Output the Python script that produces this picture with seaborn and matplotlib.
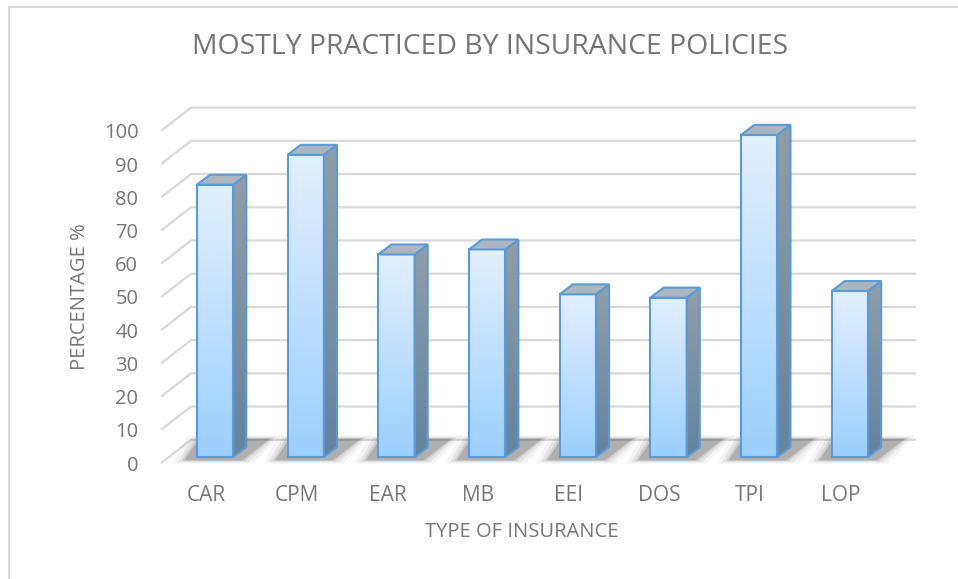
import numpy as np
import pandas as pd
import matplotlib.pyplot as plt
from matplotlib.colors import LinearSegmentedColormap
from matplotlib.patches import Polygon, Rectangle
import seaborn as sns

categories = ["CAR", "CPM", "EAR", "MB", "EEI", "DOS", "TPI", "LOP"]
percentages = [82, 91, 61, 62.5, 49, 48, 97, 50]
y_ticks = list(range(0, 101, 10))

title = "MOSTLY PRACTICED BY INSURANCE POLICIES"
x_title = "TYPE OF INSURANCE"
y_title = "PERCENTAGE %"

sns.set_theme(style="white")
plt.rcParams["font.family"] = ["Open Sans", "DejaVu Sans"]

text_gray = "#767676"
grid_gray = "#d9d9d9"
edge_blue = "#5b9bd5"

# fake 3d: depth offsets in data units
bar_dx, bar_dy = 0.145, 3.0
wall_dx, front_dy, back_dy = 0.33, -1.8, 5.2
x_front, x_back_right = -0.595, 7.73

df = pd.DataFrame({"type": categories, "pct": percentages})

fig = plt.figure(figsize=(9.58, 5.79), dpi=100)
ax = fig.add_axes([155 / 958, 109 / 579, 765 / 958, 370 / 579])

# back wall gridlines with the little diagonal from the front plane
for v in y_ticks:
    ax.plot([x_front, x_front + wall_dx, x_back_right],
            [v + front_dy, v + back_dy, v + back_dy],
            color=grid_gray, lw=1.6, zorder=0, solid_capstyle="butt")

sns.barplot(data=df, x="type", y="pct", width=0.4, color="#bfe0ff",
            edgecolor=edge_blue, linewidth=1.5, errorbar=None, ax=ax)

front_cmap = LinearSegmentedColormap.from_list("front", ["#e2f0fe", "#9ccffd"])
side_cmap = LinearSegmentedColormap.from_list("side", ["#929da8", "#63839f"])
grad = np.linspace(0, 1, 256).reshape(-1, 1)

for p in list(ax.patches):
    x0, w, h = p.get_x(), p.get_width(), p.get_height()
    x1 = x0 + w

    # soft floor shadow, heavier close to the bar
    for grow, a in [(0.12, 0.05), (0.07, 0.08), (0.03, 0.12), (0.0, 0.2)]:
        sh = Polygon([(x0 - 0.14 - grow, -1.0 - grow * 8),
                      (x1 + 0.10 + grow, -1.0 - grow * 8),
                      (x1 + bar_dx + 0.26 + grow, bar_dy + 2.5 + grow * 8),
                      (x0 + 0.02 - grow, bar_dy + 2.5 + grow * 8)],
                     closed=True, fc="#333333", alpha=a, lw=0, zorder=1)
        ax.add_patch(sh)

    # front face gradient
    p.set_zorder(4)
    p.set_facecolor("none")
    im = ax.imshow(grad, extent=[x0, x1, 0, h], origin="upper",
                   cmap=front_cmap, aspect="auto", zorder=3)
    im.set_clip_path(p)

    # side face
    side = Polygon([(x1, 0), (x1 + bar_dx, bar_dy), (x1 + bar_dx, h + bar_dy), (x1, h)],
                   closed=True, fc="none", ec=edge_blue, lw=1.5, zorder=4)
    ax.add_patch(side)
    im2 = ax.imshow(grad, extent=[x1, x1 + bar_dx, 0, h + bar_dy], origin="upper",
                    cmap=side_cmap, aspect="auto", zorder=3)
    im2.set_clip_path(side)

    # top face
    top = Polygon([(x0, h), (x1, h), (x1 + bar_dx, h + bar_dy), (x0 + bar_dx, h + bar_dy)],
                  closed=True, fc="#acb6bf", ec=edge_blue, lw=1.5, zorder=4)
    ax.add_patch(top)

ax.set_xlim(-0.662, 7.773)
ax.set_ylim(-3.9, 107.5)
ax.set_yticks([v + front_dy for v in y_ticks], labels=[str(v) for v in y_ticks])
ax.set_xticks(np.arange(len(categories)) - 0.1, labels=categories)
ax.tick_params(axis="both", length=0, labelcolor=text_gray)
ax.tick_params(axis="y", pad=12, labelsize=14.5)
ax.tick_params(axis="x", pad=11, labelsize=15)
ax.set_xlabel("")
ax.set_ylabel("")
for s in ax.spines.values():
    s.set_visible(False)

fig.text(490 / 958, 1 - 47 / 579, title, ha="center", va="center", fontsize=20.4, color="#757575")
fig.text(522 / 958, 1 - 532 / 579, x_title, ha="center", va="center", fontsize=14.5, color=text_gray)
fig.text(80 / 958, 1 - 297 / 579, y_title, ha="center", va="center", rotation=90,
         fontsize=14.5, color=text_gray)

# chart area border (runs off the right/bottom edge like the screenshot)
fig.patches.append(Rectangle((9 / 958, -0.05), 1.0, 1 - 7 / 579 + 0.05, fill=False,
                             ec="#d9d9d9", lw=1.5, transform=fig.transFigure))

fig.savefig("out.png", dpi=100)
